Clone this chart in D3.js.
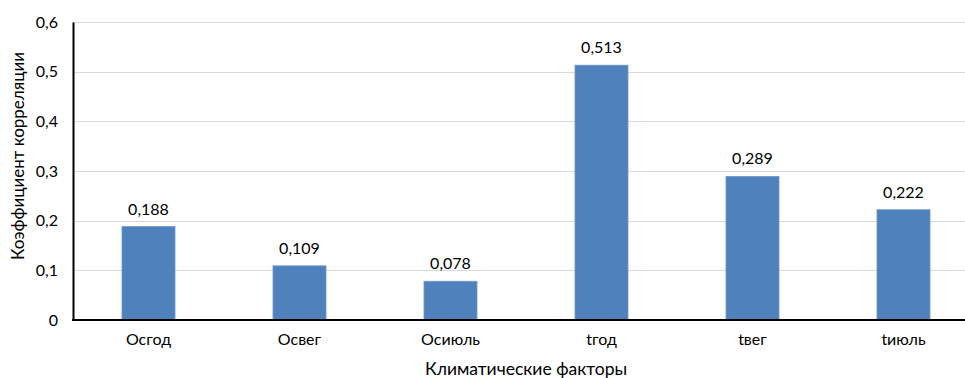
<!DOCTYPE html>
<html>
<head>
<meta charset="utf-8">
<script src="https://cdn.jsdelivr.net/npm/d3@7"></script>
<style>
  html, body { margin: 0; padding: 0; background: #fff; }
  svg { display: block; font-family: Lato, "Open Sans", sans-serif; }
</style>
</head>
<body>
<div id="chart"></div>
<script>
// Climate factors and their correlation coefficients
const categories = ["Осгод", "Освег", "Осиюль", "tгод", "tвег", "tиюль"];
const values = [0.188, 0.109, 0.078, 0.513, 0.289, 0.222];
const yTicks = [0, 0.1, 0.2, 0.3, 0.4, 0.5, 0.6];

const W = 965, H = 378;
const plotLeft = 73, plotTop = 22, plotBottom = 320, plotRight = 979;

const fmt = v => v === 0 ? "0" : String(v).replace(".", ",");

const svg = d3.select("#chart").append("svg")
  .attr("width", W).attr("height", H);

const x = d3.scaleBand()
  .domain(categories)
  .range([plotLeft, plotRight])
  .paddingInner(0.649)
  .paddingOuter(0.3245);

const y = d3.scaleLinear().domain([0, 0.6]).range([plotBottom, plotTop]);

// horizontal gridlines
svg.append("g")
  .selectAll("line")
  .data(yTicks.filter(t => t > 0))
  .join("line")
  .attr("x1", plotLeft).attr("x2", W)
  .attr("y1", d => Math.round(y(d)) + 0.5)
  .attr("y2", d => Math.round(y(d)) + 0.5)
  .attr("stroke", "#d9d9d9").attr("stroke-width", 1);

// bars
svg.append("g")
  .selectAll("rect")
  .data(values)
  .join("rect")
  .attr("x", (d, i) => x(categories[i]))
  .attr("y", d => y(d))
  .attr("width", x.bandwidth())
  .attr("height", d => plotBottom - y(d))
  .attr("fill", "#4f81bd")
  .attr("stroke", "#6b96cc").attr("stroke-width", 0.8);

// value labels
svg.append("g")
  .selectAll("text")
  .data(values)
  .join("text")
  .attr("x", (d, i) => x(categories[i]) + x.bandwidth() / 2)
  .attr("y", d => y(d) - 12)
  .attr("text-anchor", "middle")
  .attr("font-size", 16)
  .attr("fill", "#000")
  .text(d => fmt(d));

// y axis
const yAxis = d3.axisLeft(y).tickValues(yTicks).tickFormat(fmt).tickSize(0).tickPadding(15);
const gy = svg.append("g").attr("transform", `translate(${plotLeft},0)`).call(yAxis);
gy.select(".domain").attr("stroke", "#000").attr("stroke-width", 2);
gy.selectAll("text").attr("font-size", 16).attr("fill", "#000")
  .attr("font-family", "Lato, 'Open Sans', sans-serif");

// x axis
const xAxis = d3.axisBottom(x).tickSize(0).tickPadding(14);
const gx = svg.append("g").attr("transform", `translate(0,${plotBottom})`).call(xAxis);
gx.select(".domain").remove();
gx.selectAll("text").attr("font-size", 16).attr("fill", "#000")
  .attr("font-family", "Lato, 'Open Sans', sans-serif");
svg.append("line")
  .attr("x1", plotLeft - 1).attr("x2", W)
  .attr("y1", plotBottom).attr("y2", plotBottom)
  .attr("stroke", "#000").attr("stroke-width", 2);

// axis titles
svg.append("text")
  .attr("x", (plotLeft + plotRight) / 2).attr("y", 375)
  .attr("text-anchor", "middle")
  .attr("font-size", 17.5).attr("fill", "#000")
  .text("Климатические факторы");

svg.append("text")
  .attr("transform", "translate(24,156) rotate(-90)")
  .attr("text-anchor", "middle")
  .attr("font-size", 17).attr("fill", "#000")
  .text("Коэффициент корреляции");
</script>
</body>
</html>
